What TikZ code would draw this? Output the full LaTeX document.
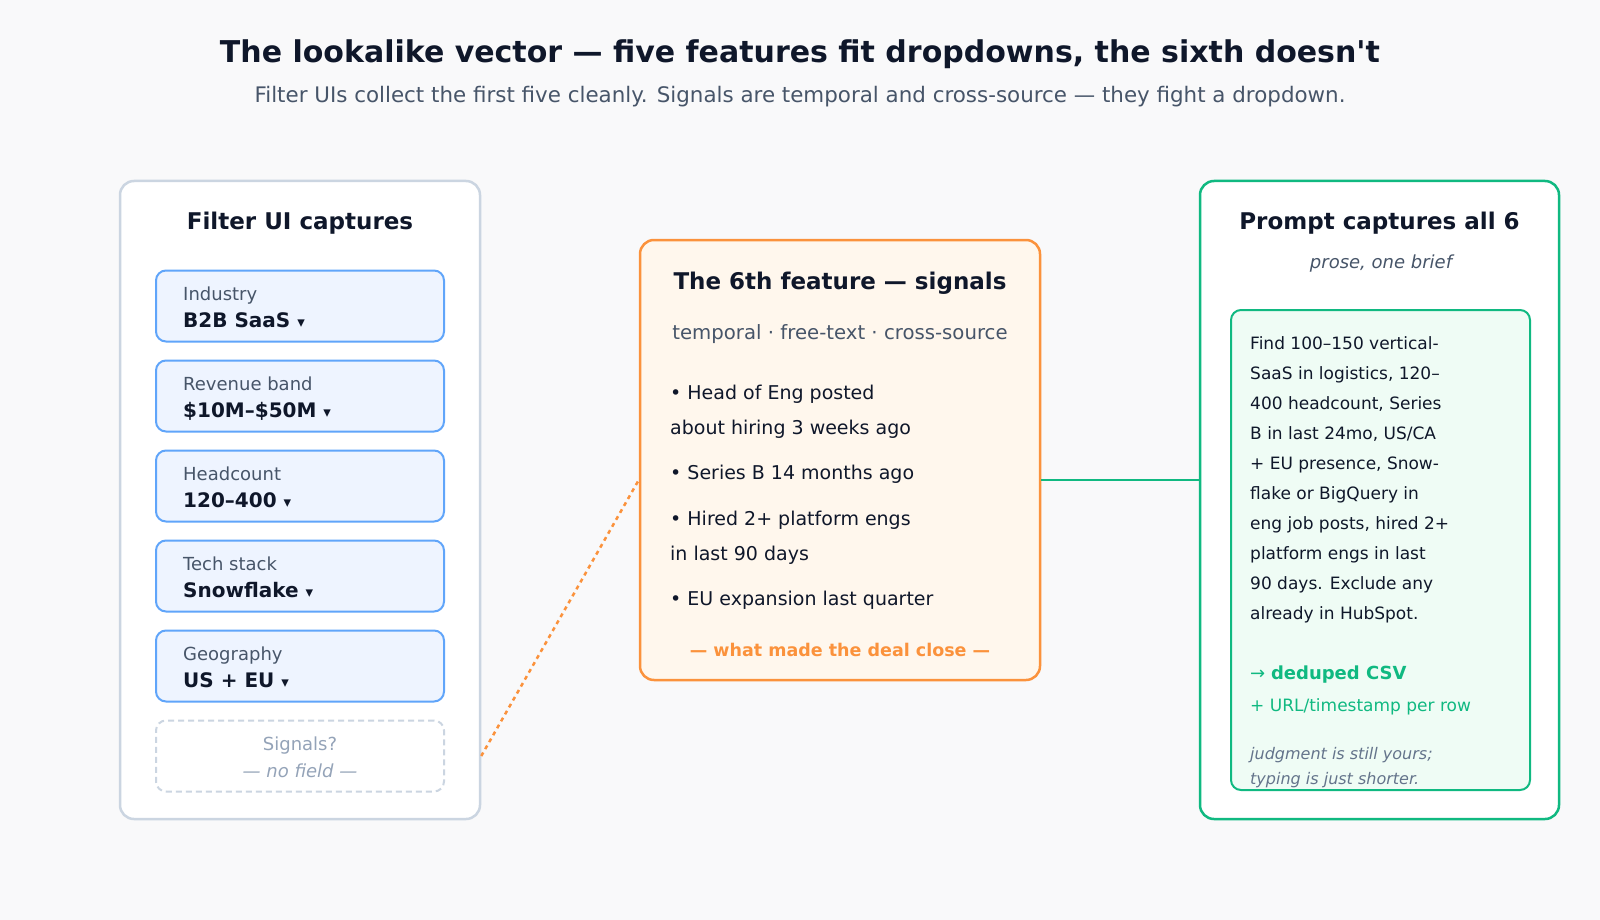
\documentclass[tikz,border=0pt]{standalone}
\usepackage{fontspec}
\setmainfont{DejaVu Sans}[Ligatures=TeXOff]
\usetikzlibrary{positioning,calc}

\definecolor{pagebg}{HTML}{F9F9FA}
\definecolor{inkdark}{HTML}{0F172A}
\definecolor{inkgray}{HTML}{475569}
\definecolor{inkmute}{HTML}{64748B}
\definecolor{slateline}{HTML}{CBD5E1}
\definecolor{slatetext}{HTML}{94A3B8}
\definecolor{ddfill}{HTML}{EEF4FF}
\definecolor{ddline}{HTML}{60A5FA}
\definecolor{orangeline}{HTML}{FB923C}
\definecolor{orangefill}{HTML}{FFF7ED}
\definecolor{greenline}{HTML}{10B981}
\definecolor{greenfill}{HTML}{EFFCF5}

\newcommand{\fsz}[1]{\fontsize{#1}{1.2\dimexpr#1pt\relax}\selectfont}

\begin{document}
\begin{tikzpicture}[x=1pt, y=-1pt,
    panel/.style={draw, line width=2.5pt, rounded corners=14pt, inner sep=0pt},
    dropbox/.style={draw=ddline, fill=ddfill, line width=2pt, rounded corners=10pt,
        minimum width=288pt, minimum height=71pt, inner sep=0pt},
    ddlabel/.style={anchor=base west, inner sep=0pt, text=inkgray, font=\fsz{18}},
    ddvalue/.style={anchor=base west, inner sep=0pt, text=inkdark, font=\fsz{20}\bfseries},
    heading/.style={inner sep=0pt, text=inkdark, font=\fsz{23}\bfseries},
    bullet/.style={anchor=north west, inner sep=0pt, align=left, text=inkdark,
        font=\fontsize{19}{35}\selectfont}]

    % Page background, fixes the bounding box
    \fill[pagebg] (0,0) rectangle (1600,920);

    % Headline
    \node[inner sep=0pt, text=inkdark, font=\fsz{30}\bfseries] (headline) at (800,54)
        {The lookalike vector — five features fit dropdowns, the sixth doesn't};
    \node[inner sep=0pt, text=inkgray, font=\fsz{21.4}] (subline) at (800,97)
        {Filter UIs collect the first five cleanly. Signals are temporal and cross-source — they fight a dropdown.};

    % Left panel: filter UI
    \node[panel, draw=slateline, fill=white, minimum width=360pt, minimum height=638pt] (filterui) at (300,500) {};
    \node[heading] (filtertitle) at (300,223) {Filter UI captures};

    \foreach \i/\lab/\val in {0/Industry/B2B SaaS, 1/Revenue band/\$10M–\$50M,
        2/Headcount/120–400, 3/Tech stack/Snowflake, 4/Geography/US + EU} {
        \node[dropbox] (dd\i) at (300,306+90*\i) {};
        \node[ddlabel] (ddlab\i) at ($(dd\i.west)+(28,-6)$) {\lab};
        \node[ddvalue] (ddval\i) at ($(dd\i.west)+(28,21)$) {\val\ {\fsz{15}▾}};
    }

    % The missing field
    \node[draw=slateline, fill=white, dashed, dash pattern=on 6pt off 4pt, line width=2pt,
        rounded corners=10pt, minimum width=288pt, minimum height=71pt, inner sep=0pt] (signalbox) at (300,756) {};
    \node[inner sep=0pt, text=slatetext, font=\fsz{18}] (signalq) at (300,746) {Signals?};
    \node[inner sep=0pt, text=slatetext, font=\fsz{18}\itshape] (nofield) at (300,771) {— no field —};

    % Middle panel: the sixth feature
    \node[panel, draw=orangeline, fill=orangefill, minimum width=400pt, minimum height=440pt] (feature) at (840,460) {};
    \node[heading] (featuretitle) at (840,283) {The 6th feature — signals};
    \node[inner sep=0pt, text=inkgray, font=\fsz{19.7}] (featuresub) at (840,334)
        {temporal · free-text · cross-source};
    \node[bullet] (sig1) at (670,385) {• Head of Eng posted\\about hiring 3 weeks ago};
    \node[bullet] (sig2) at (670,465) {• Series B 14 months ago};
    \node[bullet] (sig3) at (670,511) {• Hired 2+ platform engs\\in last 90 days};
    \node[bullet] (sig4) at (670,591) {• EU expansion last quarter};
    \node[inner sep=0pt, text=orangeline, font=\fsz{17.5}\bfseries] (dealclose) at (840,650)
        {— what made the deal close —};

    % Right panel: the prompt
    \node[panel, draw=greenline, fill=white, minimum width=359pt, minimum height=638pt] (prompt) at (1379.5,500) {};
    \node[heading] (prompttitle) at (1379.5,223) {Prompt captures all 6};
    \node[inner sep=0pt, text=inkgray, font=\fsz{18}\itshape] (promptsub) at (1381,264) {prose, one brief};
    \node[draw=greenline, fill=greenfill, line width=2pt, rounded corners=10pt,
        minimum width=299pt, minimum height=480pt, inner sep=0pt] (brief) at (1380.5,550) {};
    \node[anchor=north west, inner sep=0pt, align=left, text=inkdark, font=\fontsize{17}{30}\selectfont] (brieftext) at (1250,336)
        {Find 100–150 vertical-\\SaaS in logistics, 120–\\400 headcount, Series\\B in last 24mo, US/CA\\+ EU presence, Snow-\\flake or BigQuery in\\eng job posts, hired 2+\\platform engs in last\\90 days. Exclude any\\already in HubSpot.};
    \node[anchor=west, inner sep=0pt, text=greenline, font=\fsz{18}] (csv) at (1250,675)
        {→ \textbf{deduped CSV}};
    \node[anchor=west, inner sep=0pt, text=greenline, font=\fsz{17}] (perrow) at (1250,707)
        {+ URL/timestamp per row};
    \node[anchor=north west, inner sep=0pt, align=left, text=inkmute, font=\fontsize{16}{25}\selectfont\itshape] (judgment) at (1250,747)
        {judgment is still yours;\\typing is just shorter.};

    % Connectors
    \coordinate (link) at (0,480);
    \draw[orangeline, line width=2.5pt, dash pattern=on 4pt off 4pt] (filterui.east |- signalbox) -- (feature.west |- link);
    \draw[greenline, line width=2.5pt] (feature.east |- link) -- (prompt.west |- link);
\end{tikzpicture}
\end{document}
